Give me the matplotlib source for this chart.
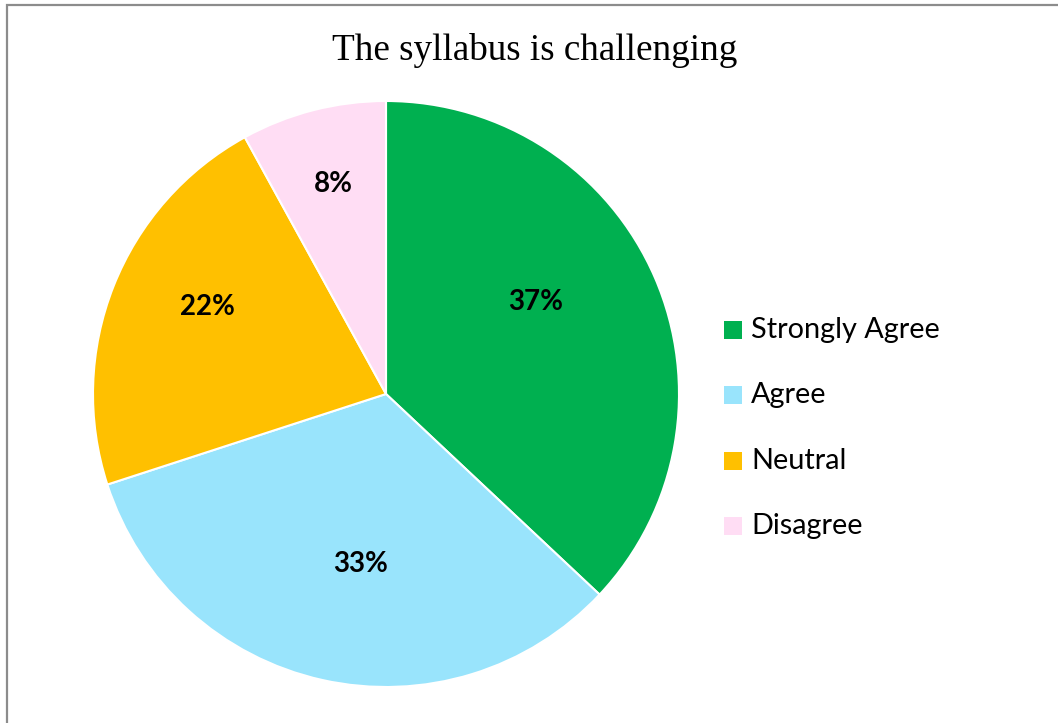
import matplotlib
matplotlib.use("Agg")
import matplotlib.pyplot as plt
from matplotlib.patches import Rectangle
import numpy as np

categories = ["Strongly Agree", "Agree", "Neutral", "Disagree"]
values = [37, 33, 22, 8]
colors = ["#00B050", "#99E4FC", "#FFC000", "#FFDDF4"]
label_radius = [0.60, 0.586, 0.679, 0.739]
label_shift = [8.1, 4.2, -4.4, -0.2]

W, H = 1058, 723
fig = plt.figure(figsize=(W / 100, H / 100), dpi=100)
fig.patch.set_facecolor("white")

# outer border (right and bottom edges fall outside the image)
fig.add_artist(Rectangle((7 / W, -0.2), 1.2, 1.2 - 5 / H, transform=fig.transFigure,
                         fill=False, edgecolor="#8C8C8C", linewidth=1.6))

cx, cy, r = 386, 394, 293
ax = fig.add_axes([(cx - r) / W, (H - cy - r) / H, 2 * r / W, 2 * r / H])
wedges, _ = ax.pie(values, colors=colors, startangle=90, counterclock=False,
                   radius=1.0, wedgeprops=dict(edgecolor="white", linewidth=1.5))
ax.set_xlim(-1, 1)
ax.set_ylim(-1, 1)
ax.set_aspect("equal")
ax.axis("off")

total = sum(values)
start = 90.0
for v, rr, sh in zip(values, label_radius, label_shift):
    ang = start - 360 * v / total / 2 + sh
    start -= 360 * v / total
    x = rr * np.cos(np.radians(ang))
    y = rr * np.sin(np.radians(ang))
    ax.text(x, y, f"{v}%", ha="center", va="center", fontsize=20,
            fontweight="bold", family="Lato", color="black")

fig.text(535 / W, 1 - 60 / H, "The syllabus is challenging", ha="center", va="baseline",
         fontsize=26.7, family="Liberation Serif", color="black")

ys = [330, 395, 461, 526]
for cat, col, yy in zip(categories, colors, ys):
    fig.add_artist(Rectangle((724 / W, 1 - (yy + 9) / H), 18 / W, 18 / H,
                             transform=fig.transFigure, facecolor=col, edgecolor="none"))
    fig.text(751 / W, 1 - yy / H, cat, ha="left", va="center", fontsize=20.8,
             family="Lato", color="black")

fig.savefig("out.png", dpi=100, facecolor="white")
